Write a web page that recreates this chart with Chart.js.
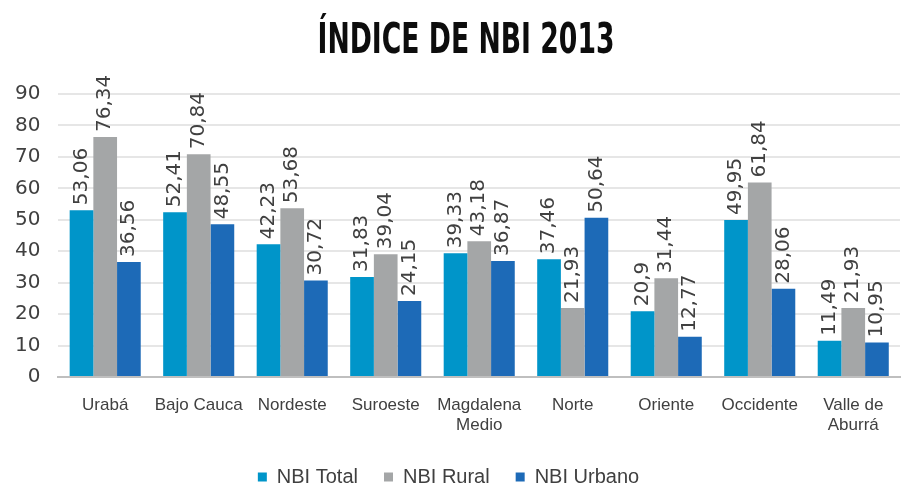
<!DOCTYPE html>
<html>
<head>
<meta charset="utf-8">
<script src="https://cdn.jsdelivr.net/npm/chart.js@4"></script>
<style>
  html, body { margin: 0; padding: 0; background: #fff; }
  #wrap { width: 902px; height: 488px; position: relative; }
</style>
</head>
<body>
<div id="wrap"><canvas id="nbiChart" width="902" height="488"></canvas></div>
<script>
// --- Data ---
const chartTitle = 'ÍNDICE DE NBI 2013';
const regions = ['Urabá', 'Bajo Cauca', 'Nordeste', 'Suroeste', ['Magdalena', 'Medio'], 'Norte', 'Oriente', 'Occidente', ['Valle de', 'Aburrá']];
const nbiTotal = [53.06, 52.41, 42.23, 31.83, 39.33, 37.46, 20.9, 49.95, 11.49];
const nbiRural = [76.34, 70.84, 53.68, 39.04, 43.18, 21.93, 31.44, 61.84, 21.93];
const nbiUrbano = [36.56, 48.55, 30.72, 24.15, 36.87, 50.64, 12.77, 28.06, 10.95];
const yTicks = [0, 10, 20, 30, 40, 50, 60, 70, 80, 90];

const textColor = '#404040';

// --- Condensed heavy title, drawn at the top ---
const squeezedTitle = {
  id: 'squeezedTitle',
  afterDraw(chart) {
    const ctx = chart.ctx;
    ctx.save();
    ctx.font = 'bold 42px "DejaVu Sans", sans-serif';
    ctx.fillStyle = '#0d0d0d';
    ctx.textAlign = 'center';
    ctx.textBaseline = 'alphabetic';
    const w = ctx.measureText(chartTitle).width;
    const sx = 297 / w;
    ctx.translate(466, 53);
    ctx.scale(sx, 1);
    ctx.fillText(chartTitle, 0, 0);
    ctx.restore();
  }
};

// --- Rotated value labels above each bar ---
const barLabels = {
  id: 'barLabels',
  afterDatasetsDraw(chart) {
    const ctx = chart.ctx;
    ctx.save();
    ctx.fillStyle = textColor;
    ctx.font = '20px "DejaVu Sans", sans-serif';
    ctx.textAlign = 'left';
    ctx.textBaseline = 'middle';
    chart.data.datasets.forEach((ds, i) => {
      chart.getDatasetMeta(i).data.forEach((bar, j) => {
        const txt = String(ds.data[j]).replace('.', ',');
        ctx.save();
        ctx.translate(bar.x, bar.y - 5);
        ctx.rotate(-Math.PI / 2);
        ctx.fillText(txt, 0, 0);
        ctx.restore();
      });
    });
    ctx.restore();
  }
};

new Chart(document.getElementById('nbiChart'), {
  type: 'bar',
  data: {
    labels: regions,
    datasets: [
      { label: 'NBI Total', data: nbiTotal, backgroundColor: '#0095C9' },
      { label: 'NBI Rural', data: nbiRural, backgroundColor: '#A4A6A7' },
      { label: 'NBI Urbano', data: nbiUrbano, backgroundColor: '#1D6AB7' }
    ]
  },
  options: {
    responsive: false,
    animation: false,
    layout: { padding: { left: -3, right: 2, top: 94, bottom: -9 } },
    datasets: { bar: { categoryPercentage: 0.76, barPercentage: 1.0 } },
    plugins: {
      title: { display: false },
      legend: {
        position: 'bottom',
        labels: {
          color: textColor,
          boxWidth: 9,
          boxHeight: 9,
          padding: 26,
          font: { family: '"Liberation Sans", Arial, sans-serif', size: 20 }
        }
      },
      tooltip: { enabled: false }
    },
    scales: {
      x: {
        grid: { display: false },
        border: { color: '#BFBFBF', width: 2 },
        afterFit(scale) { scale.height = 64; },
        ticks: {
          color: textColor,
          maxRotation: 0,
          padding: 10,
          font: { family: '"Liberation Sans", Arial, sans-serif', size: 17 }
        }
      },
      y: {
        min: 0,
        max: 90,
        afterBuildTicks(axis) { axis.ticks = yTicks.map(v => ({ value: v })); },
        grid: { color: '#E6E6E6', lineWidth: 2, drawTicks: false },
        border: { display: false },
        ticks: {
          color: textColor,
          padding: 18,
          font: { family: '"DejaVu Sans", sans-serif', size: 20 }
        }
      }
    }
  },
  plugins: [barLabels, squeezedTitle]
});
</script>
</body>
</html>
